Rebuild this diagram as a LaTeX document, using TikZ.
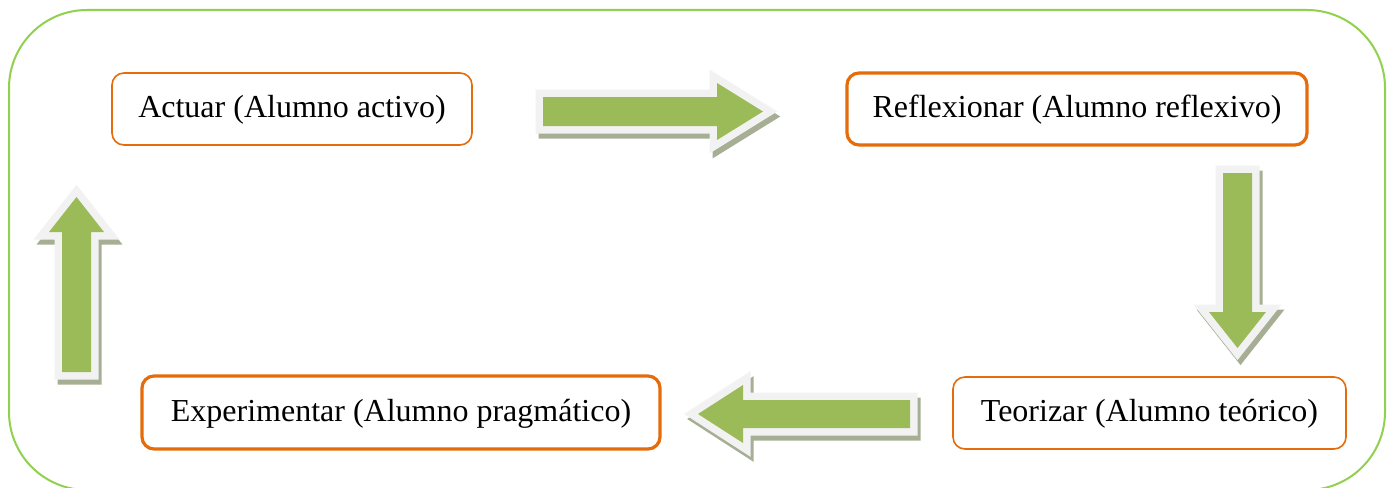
\documentclass[tikz,border=0pt]{standalone}
\usepackage{fontspec}
\setmainfont{Liberation Serif}
\definecolor{framegreen}{HTML}{92D050}
\definecolor{boxorange}{HTML}{E46C0A}
\definecolor{arrowgreen}{HTML}{9BBB59}
\definecolor{bordergray}{HTML}{F2F2F2}
\definecolor{shadowc}{HTML}{A6AE94}
\newcommand\blockarrow[1]{%
  \filldraw[shadowc, line width=15pt, line join=miter, shift={(3,5)}] #1 -- cycle;
  \draw[bordergray, line width=15pt, line join=miter] #1 -- cycle;
  \fill[arrowgreen] #1 -- cycle;
}
\begin{document}
\begin{tikzpicture}[x=1pt,y=-1pt,
  stagebox/.style={draw=boxorange, rounded corners=12pt, fill=white,
    inner sep=0pt, font=\fontsize{32}{38}\selectfont, text=black,
    text height=22pt, text depth=5pt},
  thinbox/.style={stagebox, line width=1.6pt},
  thickbox/.style={stagebox, line width=3.2pt}]
\useasboundingbox (0,0) rectangle (1391,487);
\fill[white] (0,0) rectangle (1391,487);
\draw[framegreen, line width=2pt, rounded corners=78pt] (9,10) rectangle (1385,490);

\node[thinbox, minimum width=360pt, minimum height=72pt] (actuar) at (292,109) {Actuar (Alumno activo)};
\node[thickbox, minimum width=460pt, minimum height=72pt] (reflex) at (1077,109) {Reflexionar (Alumno reflexivo)};
\node[thinbox, minimum width=393pt, minimum height=72pt] (teor) at (1149.5,413) {Teorizar (Alumno teórico)};
\node[thickbox, minimum width=518pt, minimum height=73pt] (exper) at (401,412.5) {Experimentar (Alumno pragmático)};

% right arrow
\blockarrow{(543,97) -- (717,97) -- (717,83) -- (763,111.5) -- (717,140) -- (717,126) -- (543,126)}
% down arrow
\blockarrow{(1223,173) -- (1252,173) -- (1252,312) -- (1266,312) -- (1237.5,348) -- (1209,312) -- (1223,312)}
% left arrow
\blockarrow{(910,400) -- (743,400) -- (743,385) -- (698,414) -- (743,443) -- (743,428) -- (910,428)}
% up arrow
\blockarrow{(62,372) -- (62,232) -- (49,232) -- (76.5,197) -- (104,232) -- (91,232) -- (91,372)}
\end{tikzpicture}
\end{document}
